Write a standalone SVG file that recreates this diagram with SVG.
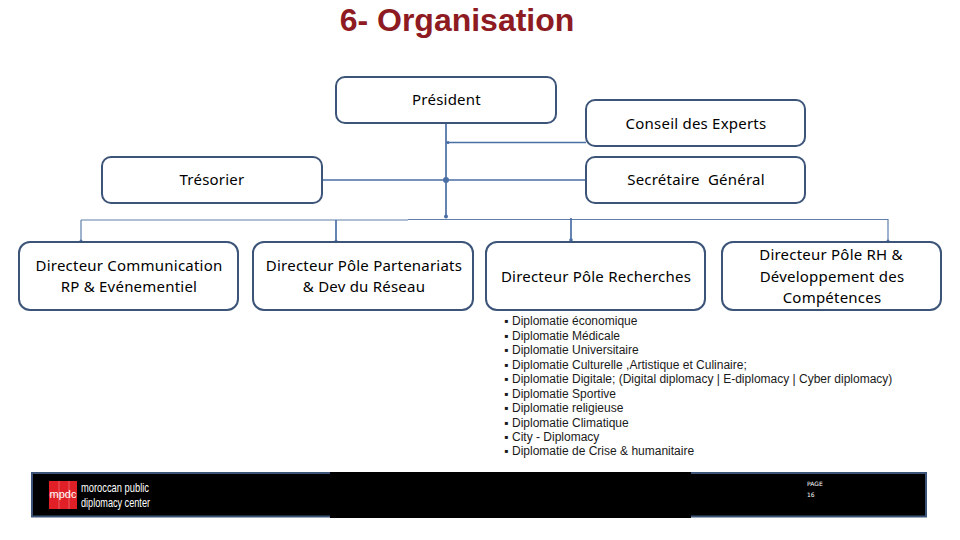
<svg xmlns="http://www.w3.org/2000/svg" width="960" height="540" viewBox="0 0 960 540">
<style>
.box{fill:#fff;stroke:#3b5478;stroke-width:2}
.t{font-family:"Noto Sans","DejaVu Sans",sans-serif;font-size:15px;letter-spacing:.22px;fill:#000;text-anchor:middle}
.l{font-family:"Liberation Sans",Arial,sans-serif;font-size:12px;fill:#1a1a1a}
.c{fill:none;stroke:#4a6fa5;stroke-width:1.700}
.b{fill:none;stroke:#5f7fa8;stroke-width:1.200}
.d{fill:#4a6fa5}
</style>
<rect width="960" height="540" fill="#fff"/>
<text x="457" y="31" font-family="Liberation Sans,Arial,sans-serif" font-size="32" font-weight="bold" fill="#8e1b22" text-anchor="middle">6- Organisation</text>
<g id="connectors">
<path class="c" d="M446 123V217M446 142.500H586M322 180H586"/>
<path class="b" d="M81 220H408M408 219.500H888"/>
<path class="b" d="M81 220V241"/>
<path class="c" d="M336 220V241M571 218V241"/>
<path class="b" d="M888 219V241"/>
<circle class="d" cx="446" cy="180" r="3"/><circle class="d" cx="446" cy="216.500" r="2"/><circle class="d" cx="448" cy="142.500" r="1.500"/>
<circle class="d" cx="81" cy="241" r="1.500"/><circle class="d" cx="336" cy="241" r="1.500"/><circle class="d" cx="571" cy="240" r="1.800"/><circle class="d" cx="888" cy="241" r="1.500"/>
</g>
<g id="president"><rect class="box" x="336" y="77" width="220" height="46" rx="9"/><text class="t" x="446.500" y="105">Président</text></g>
<g id="conseil"><rect class="box" x="586" y="100" width="219" height="46" rx="9"/><text class="t" x="696" y="129">Conseil des Experts</text></g>
<g id="tresorier"><rect class="box" x="102" y="157" width="220" height="46" rx="9"/><text class="t" x="212" y="185">Trésorier</text></g>
<g id="secretaire"><rect class="box" x="586" y="157" width="219" height="46" rx="9"/><text class="t" x="696" y="185" xml:space="preserve">Secrétaire  Général</text></g>
<g id="dir-comm"><rect class="box" x="19" y="242" width="219" height="68" rx="11"/><text class="t" x="129" y="271">Directeur Communication</text><text class="t" x="129" y="292">RP &amp; Evénementiel</text></g>
<g id="dir-part"><rect class="box" x="253" y="242" width="220" height="68" rx="11"/><text class="t" x="364" y="271">Directeur Pôle Partenariats</text><text class="t" x="364" y="292">&amp; Dev du Réseau</text></g>
<g id="dir-rech"><rect class="box" x="486" y="242" width="219" height="68" rx="11"/><text class="t" x="596" y="282">Directeur Pôle Recherches</text></g>
<g id="dir-rh"><rect class="box" x="722" y="242" width="219" height="68" rx="11"/><text class="t" x="831" y="260">Directeur Pôle RH &amp;</text><text class="t" x="832" y="282">Développement des</text><text class="t" x="832" y="303">Compétences</text></g>
<g id="list">
<text class="l" x="504" y="325">▪</text><text class="l" x="512" y="325">Diplomatie économique</text>
<text class="l" x="504" y="340">▪</text><text class="l" x="512" y="340">Diplomatie Médicale</text>
<text class="l" x="504" y="354">▪</text><text class="l" x="512" y="354">Diplomatie Universitaire</text>
<text class="l" x="504" y="369">▪</text><text class="l" x="512" y="369">Diplomatie Culturelle ,Artistique et Culinaire;</text>
<text class="l" x="504" y="383">▪</text><text class="l" x="512" y="383">Diplomatie Digitale; (Digital diplomacy | E-diplomacy | Cyber diplomacy)</text>
<text class="l" x="504" y="398">▪</text><text class="l" x="512" y="398">Diplomatie Sportive</text>
<text class="l" x="504" y="412">▪</text><text class="l" x="512" y="412">Diplomatie religieuse</text>
<text class="l" x="504" y="427">▪</text><text class="l" x="512" y="427">Diplomatie Climatique</text>
<text class="l" x="504" y="441">▪</text><text class="l" x="512" y="441">City - Diplomacy</text>
<text class="l" x="504" y="455">▪</text><text class="l" x="512" y="455">Diplomatie de Crise &amp; humanitaire</text>
</g>
<g id="footer">
<rect x="32" y="473" width="894" height="43.500" fill="#000" stroke="#3b5478" stroke-width="2"/>
<rect x="330" y="472" width="361" height="46" fill="#000"/>
<rect x="49" y="481" width="28" height="28" fill="#e01f26"/>
<path d="M49 495H77M59 481V509M69 481V509" stroke="#f3a0a0" stroke-width="0.500" fill="none"/>
<text x="63" y="498" font-family="Liberation Sans,Arial,sans-serif" font-size="10.500" fill="#fff" text-anchor="middle" textLength="27" lengthAdjust="spacingAndGlyphs">mpdc</text>
<text x="81" y="492" font-family="Liberation Sans,Arial,sans-serif" font-size="13" fill="#fff" textLength="68" lengthAdjust="spacingAndGlyphs">moroccan public</text>
<text x="81" y="507" font-family="Liberation Sans,Arial,sans-serif" font-size="13" fill="#fff" textLength="69" lengthAdjust="spacingAndGlyphs">diplomacy center</text>
<text x="807" y="486" font-family="DejaVu Sans,sans-serif" font-size="6" fill="#fff">PAGE</text>
<text x="807" y="497" font-family="DejaVu Sans,sans-serif" font-size="6" fill="#fff">16</text>
</g>
</svg>
